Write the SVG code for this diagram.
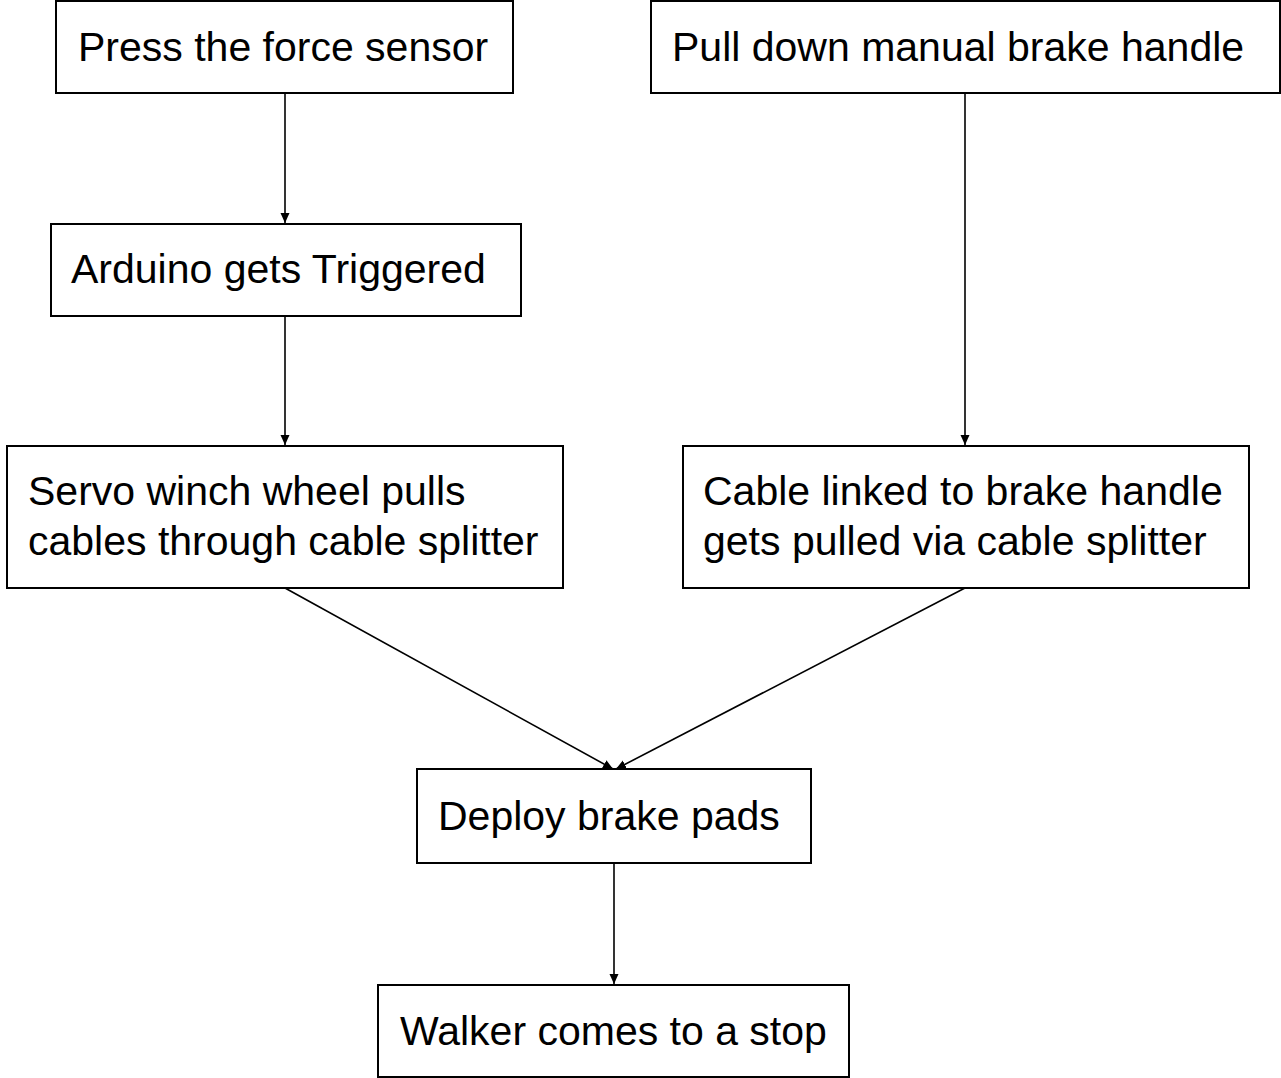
<svg xmlns="http://www.w3.org/2000/svg" width="1281" height="1078" viewBox="0 0 1281 1078">
<style>
.box{fill:#fff;stroke:#000;stroke-width:2}
.t{font-family:"Liberation Sans",Arial,sans-serif;font-size:41px;fill:#000}
.c{fill:none;stroke:#000;stroke-width:1.6}
</style>
<defs>
<marker id="ah" viewBox="-10 -5 11 10" refX="0" refY="0" markerWidth="11" markerHeight="10" markerUnits="userSpaceOnUse" orient="auto">
<path d="M-10,-4.5 L0,0 L-10,4.5 z" fill="#000"/>
</marker>
</defs>
<rect width="1281" height="1078" fill="#fff"/>
<g id="connectors">
<line class="c" x1="285" y1="93" x2="285" y2="223" marker-end="url(#ah)"/>
<line class="c" x1="285" y1="316" x2="285" y2="445" marker-end="url(#ah)"/>
<line class="c" x1="965" y1="93" x2="965" y2="445" marker-end="url(#ah)"/>
<line class="c" x1="285" y1="588" x2="613" y2="769" marker-end="url(#ah)"/>
<line class="c" x1="965" y1="588" x2="616" y2="769" marker-end="url(#ah)"/>
<line class="c" x1="614" y1="863" x2="614" y2="984" marker-end="url(#ah)"/>
</g>
<g id="n1"><rect class="box" x="56" y="1" width="457" height="92"/><text class="t" x="78" y="61">Press the force sensor</text></g>
<g id="n2"><rect class="box" x="51" y="224" width="470" height="92"/><text class="t" x="71" y="283">Arduino gets Triggered</text></g>
<g id="n3"><rect class="box" x="7" y="446" width="556" height="142"/><text class="t" x="28" y="505">Servo winch wheel pulls</text><text class="t" x="28" y="555">cables through cable splitter</text></g>
<g id="n4"><rect class="box" x="651" y="1" width="629" height="92"/><text class="t" x="672" y="61">Pull down manual brake handle</text></g>
<g id="n5"><rect class="box" x="683" y="446" width="566" height="142"/><text class="t" x="703" y="505">Cable linked to brake handle</text><text class="t" x="703" y="555">gets pulled via cable splitter</text></g>
<g id="n6"><rect class="box" x="417" y="769" width="394" height="94"/><text class="t" x="438" y="830">Deploy brake pads</text></g>
<g id="n7"><rect class="box" x="378" y="985" width="471" height="92"/><text class="t" x="400" y="1045">Walker comes to a stop</text></g>
</svg>
